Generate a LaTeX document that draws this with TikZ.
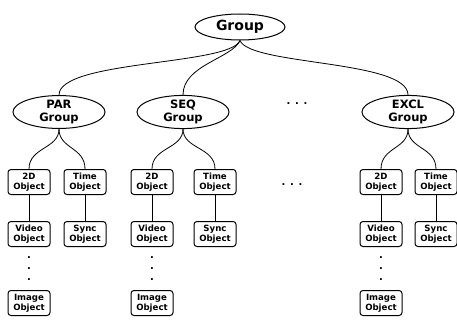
\documentclass[tikz,border=0pt]{standalone}
\usepackage{fontspec}
\setmainfont{DejaVu Sans}
\usetikzlibrary{shapes.geometric}
\begin{document}
\begin{tikzpicture}[x=1pt,y=-1pt,
  grp/.style={ellipse,draw,line width=1pt,inner sep=0pt,font=\bfseries\fontsize{11.5}{12.5}\selectfont,align=center},
  obj/.style={rectangle,rounded corners=3pt,draw,line width=1pt,minimum width=42pt,minimum height=25pt,inner sep=0pt,font=\bfseries\fontsize{8.6}{9.6}\selectfont,align=center},
  con/.style={line width=0.8pt},
  dots/.style={font=\bfseries\fontsize{10}{10}\selectfont,inner sep=0pt},
  vdot/.style={font=\bfseries\fontsize{10}{10}\selectfont,inner sep=0pt}]
\useasboundingbox (0,0) rectangle (457,321);
\node[grp,minimum width=90pt,minimum height=26pt,font=\bfseries\fontsize{14}{15}\selectfont] (g) at (240,27) {Group};
\node[grp,minimum width=92pt,minimum height=32pt] (par) at (59,112) {PAR\\Group};
\node[grp,minimum width=92pt,minimum height=32pt] (seq) at (183,112) {SEQ\\Group};
\node[grp,minimum width=92pt,minimum height=32pt] (excl) at (408,112) {EXCL\\Group};
\node[dots] (hd) at (297,104) {. . .};
% PAR column
\node[obj] (p2d) at (29,182) {2D\\Object};
\node[obj] (pt) at (85,182) {Time\\Object};
\node[obj] (pv) at (29,234) {Video\\Object};
\node[obj] (ps) at (85,234) {Sync\\Object};
\node[obj] (pi) at (29,303) {Image\\Object};
\node[vdot] (pd1) at (29,258) {.};
\node[vdot] (pd2) at (29,269) {.};
\node[vdot] (pd3) at (29,280) {.};
% SEQ column
\node[obj] (s2d) at (152,182) {2D\\Object};
\node[obj] (st) at (215,182) {Time\\Object};
\node[obj] (sv) at (152,234) {Video\\Object};
\node[obj] (ss) at (215,234) {Sync\\Object};
\node[obj] (si) at (152,303) {Image\\Object};
\node[vdot] (sd1) at (152,258) {.};
\node[vdot] (sd2) at (152,269) {.};
\node[vdot] (sd3) at (152,280) {.};
% middle dots
\node[dots] (md) at (292,185) {. . .};
% EXCL column
\node[obj] (e2d) at (381,182) {2D\\Object};
\node[obj] (et) at (436,182) {Time\\Object};
\node[obj] (ev) at (381,234) {Video\\Object};
\node[obj] (es) at (436,234) {Sync\\Object};
\node[obj] (ei) at (381,303) {Image\\Object};
\node[vdot] (ed1) at (381,258) {.};
\node[vdot] (ed2) at (381,269) {.};
\node[vdot] (ed3) at (381,280) {.};
% connectors top level
\draw[con] (g.south) .. controls +(-10,25) and +(0,-35) .. (par.north);
\draw[con] (g.south) .. controls +(-8,18) and +(0,-30) .. (seq.north);
\draw[con] (g.south) .. controls +(10,25) and +(0,-35) .. (excl.north);
% second level
\foreach \p/\a/\b in {par/p2d/pt, seq/s2d/st, excl/e2d/et}{
  \draw[con] (\p.south) .. controls +(0,20) and +(0,-22) .. (\a.north);
  \draw[con] (\p.south) .. controls +(0,20) and +(0,-22) .. (\b.north);
}
\foreach \a/\b in {p2d/pv, pt/ps, s2d/sv, st/ss, e2d/ev, et/es}{
  \draw[con] (\a) -- (\b);
}
\end{tikzpicture}
\end{document}
